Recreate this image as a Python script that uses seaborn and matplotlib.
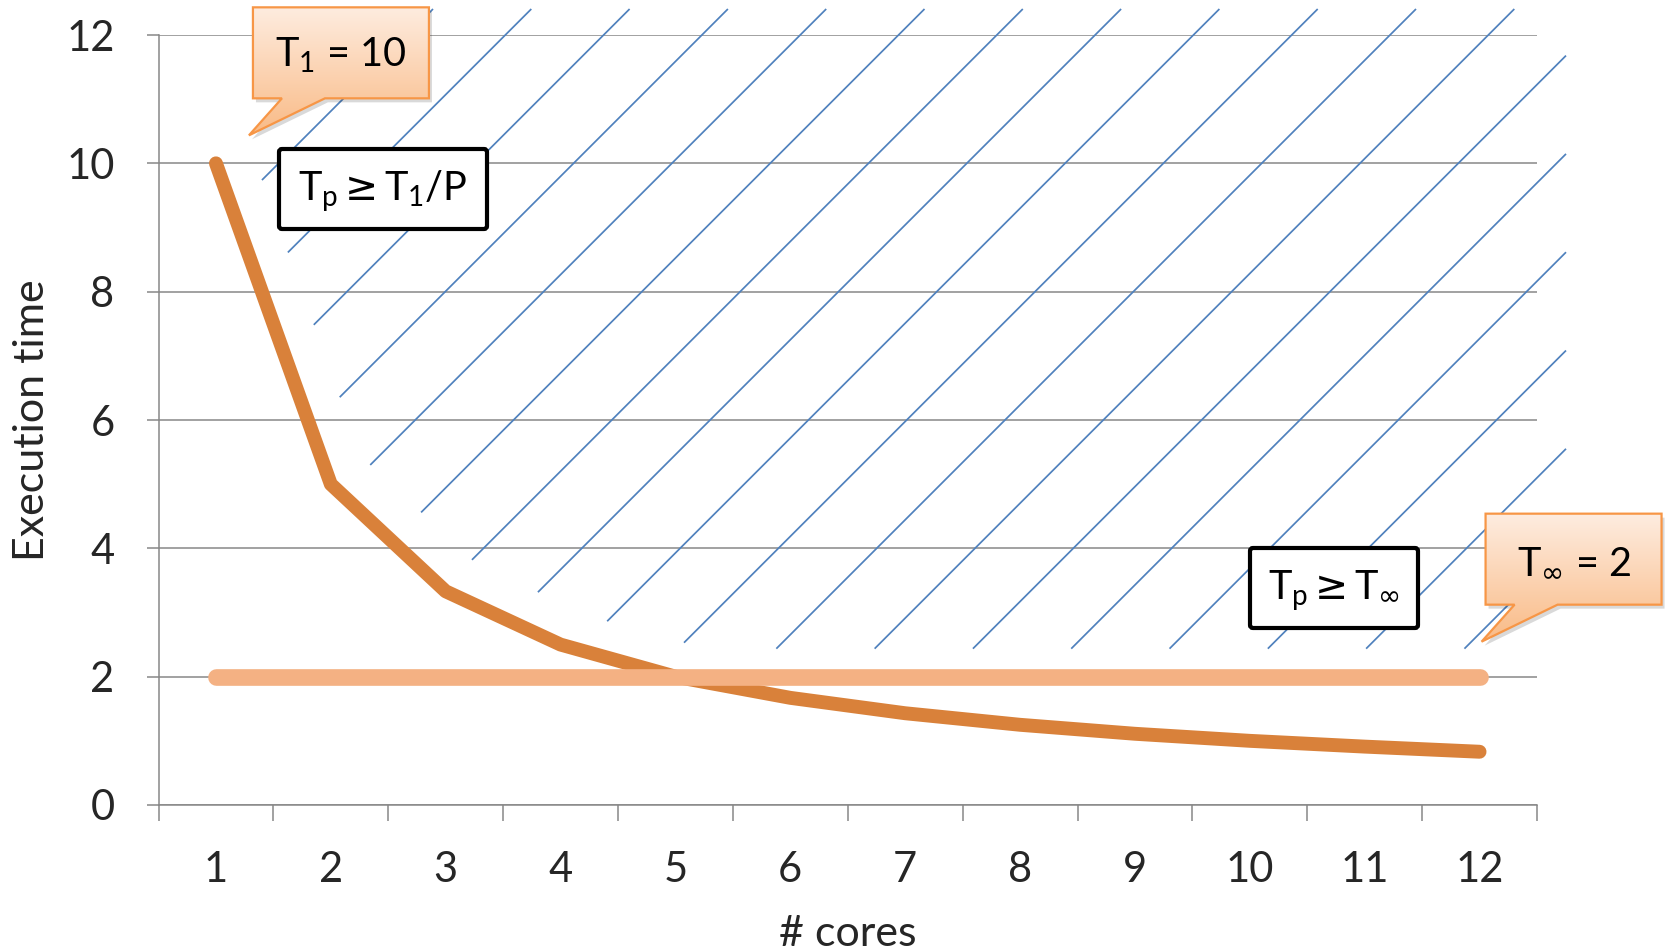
import numpy as np
import matplotlib
matplotlib.use("Agg")
import matplotlib.pyplot as plt
import seaborn as sns
from matplotlib.patches import Polygon, FancyBboxPatch

# ---- data -------------------------------------------------------------
cores = [1, 2, 3, 4, 5, 6, 7, 8, 9, 10, 11, 12]
t_work = [10, 5, 3.33, 2.5, 2, 1.67, 1.43, 1.25, 1.11, 1.0, 0.91, 0.83]   # T1 / P
t_span = [2, 2, 2, 2, 2, 2, 2, 2, 2, 2, 2, 2]                              # T_inf
y_ticks = [0, 2, 4, 6, 8, 10, 12]
x_tick_labels = [str(c) for c in cores]
x_label = "# cores"
y_label = "Execution time"

# ---- style ------------------------------------------------------------
sns.set_theme(style="white")
plt.rcParams["font.family"] = ["Lato", "DejaVu Sans"]
plt.rcParams["mathtext.fontset"] = "custom"
plt.rcParams["mathtext.rm"] = "Lato"
plt.rcParams["mathtext.it"] = "Lato:italic"
plt.rcParams["mathtext.bf"] = "Lato:bold"
plt.rcParams["mathtext.sf"] = "DejaVu Sans"

GRID = "#878787"
DARK_ORANGE = "#D9813A"
LIGHT_ORANGE = "#F4B183"
HATCH = "#4F81BD"
FS_TICK = 30
FS_LABEL = 31
FS_BOX = 28.5
CAP_PX = FS_BOX * 100 / 72 * 0.7165     # Lato cap height in pixels

W, H = 1668, 951
fig = plt.figure(figsize=(W / 100, H / 100), dpi=100)
ax = fig.add_axes([158.5 / W, 1 - 805 / H, (1537 - 158.5) / W, (805 - 35) / H])

# ---- the two bounds -----------------------------------------------------
sns.lineplot(x=cores, y=t_work, ax=ax, color=DARK_ORANGE, linewidth=10,
             solid_capstyle="round", solid_joinstyle="round", zorder=4)
sns.lineplot(x=cores, y=t_span, ax=ax, color=LIGHT_ORANGE, linewidth=12,
             solid_capstyle="round", zorder=5)

# ---- axes -------------------------------------------------------------
ax.set_xlim(0.5, 12.5)
ax.set_ylim(0, 12)
ax.set_xticks(cores)
ax.set_xticklabels(x_tick_labels)
ax.set_xticks(np.arange(0.5, 13, 1), minor=True)
ax.set_yticks(y_ticks)
ax.tick_params(which="both", bottom=True, left=True, top=False, right=False)
ax.tick_params(axis="x", which="major", length=0, pad=33, labelsize=FS_TICK)
ax.tick_params(axis="x", which="minor", length=11.5, width=1.1, color=GRID, direction="out")
ax.tick_params(axis="y", length=8.6, width=1.1, color=GRID, pad=23, labelsize=FS_TICK, direction="out")
ax.yaxis.grid(True, color=GRID, linewidth=1.1)
ax.xaxis.grid(False)
ax.set_axisbelow(True)
for s in ["top", "right"]:
    ax.spines[s].set_visible(False)
for s in ["left", "bottom"]:
    ax.spines[s].set_color(GRID)
    ax.spines[s].set_linewidth(1.1)

ax.set_ylabel(y_label, fontsize=FS_LABEL, va="center")
ax.yaxis.set_label_coords(-0.0918, 0.5)
ax.set_xlabel(x_label, fontsize=FS_LABEL, va="center")
ax.xaxis.set_label_coords(0.5, -0.168)

# ---- hatched feasible region (above both bounds) ------------------------
fig.canvas.draw()
bbox = ax.get_window_extent()
bound = np.maximum(t_work, t_span)
edge = ax.transData.transform(np.column_stack([cores, bound])) + np.array([30.0, 28.0])
x_right = bbox.x1 + 29
y_top = bbox.y1 + 26
edge = np.vstack([edge, [x_right + 20, edge[-1, 1]]])
g = edge[:, 1] - edge[:, 0]            # y - x along the lower edge (decreasing)
spacing = 98.3
b0 = y_top - (bbox.x0 + 274.5)
inv = ax.transData.inverted()
for k in range(-6, 40):
    b = b0 - k * spacing
    if b > g[0] or b < g[-1]:
        continue
    x_lo = np.interp(b, g[::-1], edge[::-1, 0])
    y_lo = x_lo + b
    x_hi = min(y_top - b, x_right)
    y_hi = x_hi + b
    if x_hi - x_lo < 20:
        continue
    seg = inv.transform([[x_lo, y_lo], [x_hi, y_hi]])
    ax.plot(seg[:, 0], seg[:, 1], color=HATCH, linewidth=1.25,
            clip_on=False, zorder=2, solid_capstyle="butt")

# ---- overlay for boxes and callouts (pixel coordinates, y downwards) ----
ov = fig.add_axes([0, 0, 1, 1])
ov.set_zorder(10)
ov.axis("off")
ov.set_autoscale_on(False)
ov.set_xlim(0, W)
ov.set_ylim(H, 0)


def to_px(x, y):
    dx, dy = ax.transData.transform((x, y))
    return dx, H - dy


def centered_text(cx, cy, text):
    # baseline placed so the capitals sit centred on (cx, cy)
    ov.text(cx, cy + CAP_PX / 2, text, fontsize=FS_BOX,
            ha="center", va="baseline", color="black", zorder=4)


def callout(anchor, offset, text):
    tx, ty = anchor[0] + offset[0], anchor[1] + offset[1]
    bx0, bx1 = tx + 4, tx + 180
    by1 = ty - 37
    by0 = by1 - 91
    verts = [(bx0, by0), (bx1, by0), (bx1, by1), (tx + 76, by1), (tx, ty),
             (tx + 33, by1), (bx0, by1)]
    shadow = Polygon([(vx + 3, vy + 4) for vx, vy in verts], closed=True,
                     facecolor="black", edgecolor="none", alpha=0.15, zorder=1)
    ov.add_patch(shadow)
    clip = Polygon(verts, closed=True, facecolor="none", edgecolor="none")
    ov.add_patch(clip)
    top = np.array(matplotlib.colors.to_rgb("#FEEDE1"))
    bot = np.array(matplotlib.colors.to_rgb("#F9BA85"))
    t = np.linspace(0, 1, 200)[:, None, None]
    grad = top * (1 - t) + bot * t
    im = ov.imshow(grad, extent=(bx0 - 2, bx1 + 2, ty + 2, by0 - 2),
                   origin="upper", aspect="auto", zorder=2, interpolation="bilinear")
    im.set_clip_path(clip)
    ov.add_patch(Polygon(verts, closed=True, facecolor="none", edgecolor="#F79646",
                         linewidth=1.6, joinstyle="miter", zorder=3))
    centered_text((bx0 + bx1) / 2, (by0 + by1) / 2, text)


def rule_box(x0, y0, x1, y1, text):
    ov.add_patch(FancyBboxPatch((x0, y0), x1 - x0, y1 - y0,
                                boxstyle="round,pad=0,rounding_size=3",
                                facecolor="white", edgecolor="black",
                                linewidth=3.0, zorder=3))
    centered_text((x0 + x1) / 2, (y0 + y1) / 2 - 2, text)


callout(to_px(cores[0], t_work[0]), (33, -28), f"T$_1$ = {t_work[0]:g}")
callout(to_px(cores[-1], t_span[-1]), (2, -35), f"T$_\\mathsf{{\\infty}}$ = {t_span[-1]:g}")
rule_box(279, 149, 487, 229, "T$_\\mathrm{p}$$\\mathsf{\\geq}$T$_1$/P")
rule_box(1250, 548, 1418, 628, "T$_\\mathrm{p}$$\\mathsf{\\geq}$T$_\\mathsf{\\infty}$")

ov.set_xlim(0, W)
ov.set_ylim(H, 0)

fig.savefig("out.png", dpi=100)
